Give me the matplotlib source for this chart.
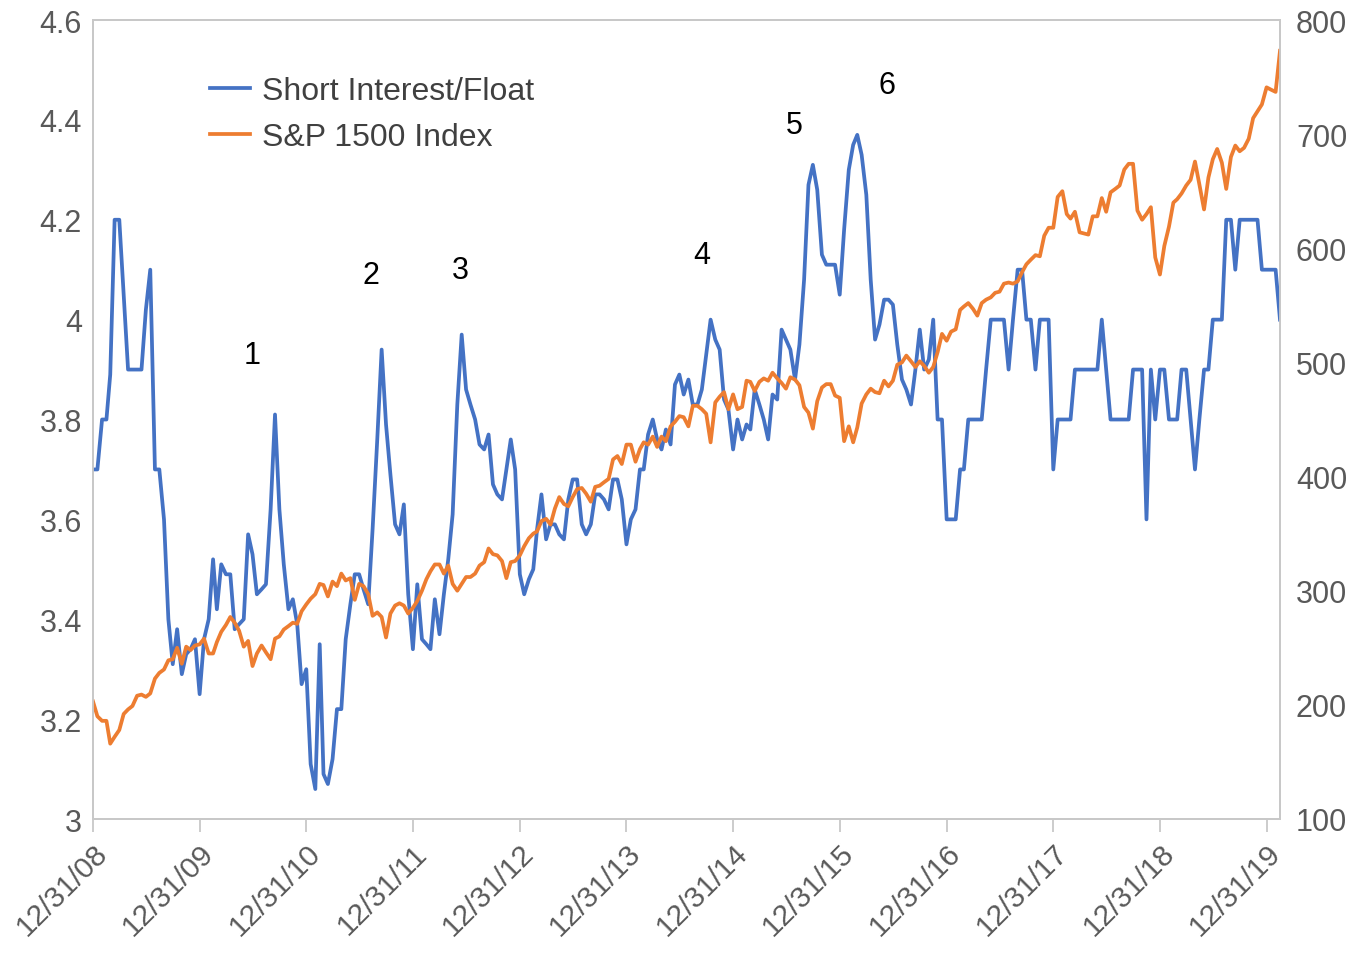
"""
Short interest / float vs S&P 1500 index, semi-monthly 2009-2020.
"""

import matplotlib
matplotlib.use('Agg')
import matplotlib.pyplot as plt
from matplotlib.ticker import FuncFormatter
import pandas as pd

# semi-monthly observations starting 12/31/08
START = '2008-12-31'

short_float = [
    3.70, 3.70, 3.80, 3.80, 3.89, 4.20, 4.20, 4.05, 3.90, 3.90, 3.90, 3.90, 4.02, 4.10, 3.70, 3.70,
    3.60, 3.40, 3.31, 3.38, 3.29, 3.33, 3.34, 3.36, 3.25, 3.36, 3.40, 3.52, 3.42, 3.51, 3.49, 3.49,
    3.38, 3.39, 3.40, 3.57, 3.53, 3.45, 3.46, 3.47, 3.62, 3.81, 3.62, 3.51, 3.42, 3.44, 3.39, 3.27,
    3.30, 3.11, 3.06, 3.35, 3.09, 3.07, 3.12, 3.22, 3.22, 3.36, 3.43, 3.49, 3.49, 3.46, 3.43, 3.58,
    3.76, 3.94, 3.79, 3.69, 3.59, 3.57, 3.63, 3.45, 3.34, 3.47, 3.36, 3.35, 3.34, 3.44, 3.37, 3.45,
    3.52, 3.61, 3.83, 3.97, 3.86, 3.83, 3.80, 3.75, 3.74, 3.77, 3.67, 3.65, 3.64, 3.70, 3.76, 3.70,
    3.49, 3.45, 3.48, 3.50, 3.58, 3.65, 3.56, 3.59, 3.59, 3.57, 3.56, 3.64, 3.68, 3.68, 3.59, 3.57,
    3.59, 3.65, 3.65, 3.64, 3.62, 3.68, 3.68, 3.64, 3.55, 3.60, 3.62, 3.70, 3.70, 3.77, 3.80, 3.76,
    3.74, 3.78, 3.75, 3.87, 3.89, 3.85, 3.88, 3.83, 3.83, 3.86, 3.93, 4.00, 3.96, 3.94, 3.84, 3.82,
    3.74, 3.80, 3.76, 3.79, 3.78, 3.86, 3.83, 3.80, 3.76, 3.85, 3.84, 3.98, 3.96, 3.94, 3.88, 3.95,
    4.08, 4.27, 4.31, 4.26, 4.13, 4.11, 4.11, 4.11, 4.05, 4.18, 4.30, 4.35, 4.37, 4.33, 4.25, 4.08,
    3.96, 3.99, 4.04, 4.04, 4.03, 3.95, 3.88, 3.86, 3.83, 3.90, 3.98, 3.90, 3.92, 4.00, 3.80, 3.80,
    3.60, 3.60, 3.60, 3.70, 3.70, 3.80, 3.80, 3.80, 3.80, 3.90, 4.00, 4.00, 4.00, 4.00, 3.90, 4.00,
    4.10, 4.10, 4.00, 4.00, 3.90, 4.00, 4.00, 4.00, 3.70, 3.80, 3.80, 3.80, 3.80, 3.90, 3.90, 3.90,
    3.90, 3.90, 3.90, 4.00, 3.90, 3.80, 3.80, 3.80, 3.80, 3.80, 3.90, 3.90, 3.90, 3.60, 3.90, 3.80,
    3.90, 3.90, 3.80, 3.80, 3.80, 3.90, 3.90, 3.80, 3.70, 3.80, 3.90, 3.90, 4.00, 4.00, 4.00, 4.20,
    4.20, 4.10, 4.20, 4.20, 4.20, 4.20, 4.20, 4.10, 4.10, 4.10, 4.10, 4.00,
]

sp1500 = [
    203, 190, 186, 186, 166, 172, 178, 192, 196, 199, 208, 209, 207, 210, 223, 228,
    231, 239, 240, 250, 236, 251, 248, 252, 253, 258, 245, 245, 255, 264, 270, 277,
    272, 265, 251, 256, 234, 245, 252, 246, 240, 258, 260, 266, 269, 272, 271, 282,
    288, 293, 297, 306, 305, 295, 308, 304, 315, 309, 311, 292, 306, 304, 297, 278,
    281, 277, 259, 280, 287, 289, 287, 280, 285, 291, 300, 310, 317, 323, 323, 315,
    322, 306, 300, 306, 312, 312, 315, 322, 325, 337, 332, 331, 326, 311, 325, 326,
    331, 339, 346, 350, 352, 361, 363, 358, 372, 382, 376, 374, 382, 389, 390, 385,
    378, 391, 392, 395, 398, 415, 418, 411, 428, 428, 413, 424, 430, 428, 435, 426,
    435, 431, 444, 448, 453, 452, 444, 462, 462, 459, 455, 430, 465, 470, 474, 459,
    472, 459, 461, 484, 483, 475, 483, 486, 484, 491, 486, 482, 477, 487, 485, 480,
    461, 456, 442, 466, 478, 481, 481, 471, 469, 431, 444, 430, 443, 464, 472, 477,
    474, 473, 484, 479, 484, 498, 500, 506, 501, 496, 501, 497, 491, 496, 509, 525,
    519, 527, 529, 546, 549, 552, 547, 541, 552, 555, 557, 561, 562, 569, 570, 569,
    571, 579, 586, 590, 594, 593, 611, 618, 618, 645, 650, 630, 626, 632, 614, 613,
    612, 628, 628, 644, 632, 649, 652, 655, 669, 674, 674, 633, 625, 630, 636, 592,
    577, 602, 619, 640, 643, 648, 655, 660, 676, 656, 634, 662, 678, 687, 675, 652,
    680, 690, 685, 688, 696, 714, 720, 726, 741, 739, 737, 773,
]

tick_dates = ['2008-12-31', '2009-12-31', '2010-12-31', '2011-12-31', '2012-12-31',
              '2013-12-31', '2014-12-31', '2015-12-31', '2016-12-31', '2017-12-31',
              '2018-12-31', '2019-12-31']
tick_labels = ['12/31/08', '12/31/09', '12/31/10', '12/31/11', '12/31/12', '12/31/13',
               '12/31/14', '12/31/15', '12/31/16', '12/31/17', '12/31/18', '12/31/19']

left_ticks = [3.0, 3.2, 3.4, 3.6, 3.8, 4.0, 4.2, 4.4, 4.6]
right_ticks = [100, 200, 300, 400, 500, 600, 700, 800]

# episode markers (date, level on left axis)
episode_labels = ['1', '2', '3', '4', '5', '6']
episode_dates = ['2010-06-30', '2011-08-08', '2012-06-12', '2014-09-16', '2015-07-30', '2016-06-10']
episode_levels = [3.93, 4.09, 4.10, 4.13, 4.39, 4.47]

BLUE = '#4472C4'
ORANGE = '#ED7D31'
GRID = '#c8c8c8'
TEXT = '#595959'

plt.rcParams['font.family'] = ['Liberation Sans', 'DejaVu Sans']

try:
    dates = pd.date_range(START, periods=len(short_float), freq='SME')
except ValueError:
    dates = pd.date_range(START, periods=len(short_float), freq='SM')

fig = plt.figure(figsize=(13.48, 9.54), dpi=100)
ax = fig.add_axes([93 / 1348, 1 - 820 / 954, (1280 - 93) / 1348, (820 - 21) / 954])
ax2 = ax.twinx()

l1, = ax.plot(dates, short_float, color=BLUE, lw=2.7, label='Short Interest/Float', zorder=3)
l2, = ax2.plot(dates, sp1500, color=ORANGE, lw=2.7, label='S&P 1500 Index', zorder=2)

ax.set_xlim(dates[0], dates[-1])
ax.set_ylim(3.0, 4.6)
ax2.set_ylim(100, 800)

ax.set_yticks(left_ticks)
ax.yaxis.set_major_formatter(FuncFormatter(lambda v, p: '%g' % round(v, 1)))
ax2.set_yticks(right_ticks)

ax.set_xticks(pd.to_datetime(tick_dates))
ax.set_xticklabels(tick_labels, rotation=45, ha='right', rotation_mode='anchor')

ax.tick_params(axis='x', length=9, width=1.3, color=GRID, labelsize=21.5,
               labelcolor=TEXT, pad=5)
ax.tick_params(axis='y', length=0, labelsize=22, labelcolor=TEXT, pad=8)
ax2.tick_params(axis='y', length=0, labelsize=22, labelcolor=TEXT, pad=11.5)

for a in (ax, ax2):
    for side in a.spines:
        a.spines[side].set_color(GRID)
        a.spines[side].set_linewidth(1.3)

for lab, d, lev in zip(episode_labels, episode_dates, episode_levels):
    ax.text(pd.Timestamp(d), lev, lab, fontsize=22, color='black',
            ha='center', va='center', zorder=5)

leg = ax.legend(handles=[l1, l2], loc='upper left', bbox_to_anchor=(0.0986, 0.93),
                frameon=False, fontsize=23, handlelength=1.25, handletextpad=0.38,
                labelspacing=0.5, borderpad=0, borderaxespad=0)
for t in leg.get_texts():
    t.set_color('#404040')

fig.savefig('out.png', dpi=100)
